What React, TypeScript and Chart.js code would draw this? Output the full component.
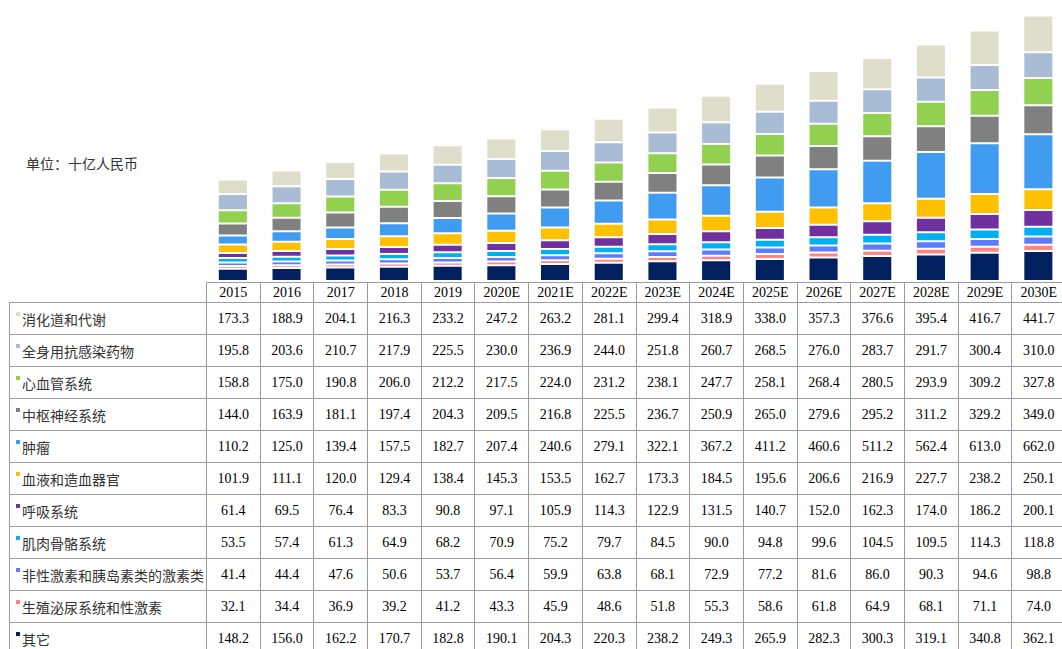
import React, { useEffect, useRef } from "react";
import { Chart, registerables } from "chart.js";

Chart.register(...registerables);

const categories = ["2015", "2016", "2017", "2018", "2019", "2020E", "2021E", "2022E", "2023E", "2024E", "2025E", "2026E", "2027E", "2028E", "2029E", "2030E"];

const digestive = [173.3, 188.9, 204.1, 216.3, 233.2, 247.2, 263.2, 281.1, 299.4, 318.9, 338.0, 357.3, 376.6, 395.4, 416.7, 441.7];
const antiInfective = [195.8, 203.6, 210.7, 217.9, 225.5, 230.0, 236.9, 244.0, 251.8, 260.7, 268.5, 276.0, 283.7, 291.7, 300.4, 310.0];
const cardio = [158.8, 175.0, 190.8, 206.0, 212.2, 217.5, 224.0, 231.2, 238.1, 247.7, 258.1, 268.4, 280.5, 293.9, 309.2, 327.8];
const cns = [144.0, 163.9, 181.1, 197.4, 204.3, 209.5, 216.8, 225.5, 236.7, 250.9, 265.0, 279.6, 295.2, 311.2, 329.2, 349.0];
const oncology = [110.2, 125.0, 139.4, 157.5, 182.7, 207.4, 240.6, 279.1, 322.1, 367.2, 411.2, 460.6, 511.2, 562.4, 613.0, 662.0];
const blood = [101.9, 111.1, 120.0, 129.4, 138.4, 145.3, 153.5, 162.7, 173.3, 184.5, 195.6, 206.6, 216.9, 227.7, 238.2, 250.1];
const respiratory = [61.4, 69.5, 76.4, 83.3, 90.8, 97.1, 105.9, 114.3, 122.9, 131.5, 140.7, 152.0, 162.3, 174.0, 186.2, 200.1];
const musculo = [53.5, 57.4, 61.3, 64.9, 68.2, 70.9, 75.2, 79.7, 84.5, 90.0, 94.8, 99.6, 104.5, 109.5, 114.3, 118.8];
const hormones = [41.4, 44.4, 47.6, 50.6, 53.7, 56.4, 59.9, 63.8, 68.1, 72.9, 77.2, 81.6, 86.0, 90.3, 94.6, 98.8];
const genito = [32.1, 34.4, 36.9, 39.2, 41.2, 43.3, 45.9, 48.6, 51.8, 55.3, 58.6, 61.8, 64.9, 68.1, 71.1, 74.0];
const others = [148.2, 156.0, 162.2, 170.7, 182.8, 190.1, 204.3, 220.3, 238.2, 249.3, 265.9, 282.3, 300.3, 319.1, 340.8, 362.1];

// table order (top to bottom) = stack order (top to bottom)
const seriesNames = ["消化道和代谢", "全身用抗感染药物", "心血管系统", "中枢神经系统", "肿瘤", "血液和造血器官", "呼吸系统", "肌肉骨骼系统", "非性激素和胰岛素类的激素类", "生殖泌尿系统和性激素", "其它"];
const seriesValues = [digestive, antiInfective, cardio, cns, oncology, blood, respiratory, musculo, hormones, genito, others];
const seriesColors = ["#DFDECA", "#A9BCD5", "#92D050", "#808080", "#409CF0", "#FFC000", "#7030A0", "#00B0F0", "#5B7CFF", "#FF8585", "#00205F"];

const unitLabel = "单位：十亿人民币";

const COL_W = 53.7;
const LABEL_W = 197;

export default function App() {
  const canvasRef = useRef<HTMLCanvasElement | null>(null);

  useEffect(() => {
    if (!canvasRef.current) return;
    const datasets = seriesNames
      .map((name, i) => ({
        label: name,
        data: seriesValues[i],
        backgroundColor: seriesColors[i],
        borderColor: "#ffffff",
        borderWidth: 1,
        borderSkipped: false as const,
        barPercentage: 0.56,
        categoryPercentage: 1,
      }))
      .reverse();
    const chart = new Chart(canvasRef.current, {
      type: "bar",
      data: { labels: categories, datasets },
      options: {
        animation: false,
        responsive: true,
        maintainAspectRatio: false,
        layout: { padding: 0 },
        plugins: { legend: { display: false }, tooltip: { enabled: false } },
        scales: {
          x: { stacked: true, display: false },
          y: { stacked: true, display: false, min: 0, max: 3380 },
        },
      },
    });
    return () => chart.destroy();
  }, []);

  const borderC = "1px solid #9c9c9c";
  const numFont = '"Liberation Serif", "Times New Roman", serif';
  const cjkFont = '"Noto Sans CJK SC", "Noto Sans", sans-serif';

  return (
    <div style={{ position: "fixed", left: 0, top: 0, width: 1062, height: 649, overflow: "hidden", background: "#fff" }}>
      <div style={{ position: "absolute", left: 26, top: 153, fontFamily: cjkFont, fontSize: 14, color: "#333", whiteSpace: "nowrap", lineHeight: "20px" }}>
        {unitLabel}
      </div>
      <div style={{ position: "absolute", left: 9 + LABEL_W, top: 0, width: COL_W * categories.length, height: 281 }}>
        <canvas ref={canvasRef} />
      </div>
      <table
        style={{
          position: "absolute",
          left: 9,
          top: 282,
          borderCollapse: "collapse",
          tableLayout: "fixed",
          width: LABEL_W + COL_W * categories.length,
        }}
      >
        <colgroup>
          <col style={{ width: LABEL_W }} />
          {categories.map((c) => (
            <col key={c} style={{ width: COL_W }} />
          ))}
        </colgroup>
        <tbody>
          <tr style={{ height: 20 }}>
            <td style={{ border: "none", padding: 0 }} />
            {categories.map((c) => (
              <td key={c} style={{ border: borderC, padding: 0, textAlign: "center", fontFamily: numFont, fontSize: 14, color: "#000", lineHeight: "18px" }}>
                {c}
              </td>
            ))}
          </tr>
          {seriesNames.map((name, i) => (
            <tr key={name} style={{ height: 32 }}>
              <td style={{ border: borderC, padding: "0 0 0 12px", position: "relative", fontFamily: cjkFont, fontSize: 14, color: "#333", whiteSpace: "nowrap", overflow: "hidden", lineHeight: "30px" }}>
                <span style={{ position: "absolute", left: 6, top: 9, width: 4, height: 4, background: seriesColors[i] }} />
                {name}
              </td>
              {seriesValues[i].map((v, j) => (
                <td key={j} style={{ border: borderC, padding: 0, textAlign: "center", fontFamily: numFont, fontSize: 14, color: "#000", lineHeight: "30px" }}>
                  {v.toFixed(1)}
                </td>
              ))}
            </tr>
          ))}
        </tbody>
      </table>
    </div>
  );
}
